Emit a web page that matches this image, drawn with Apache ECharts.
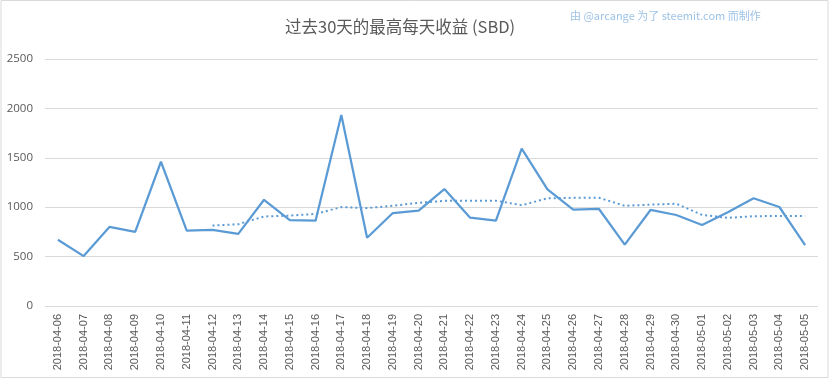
<!DOCTYPE html>
<html><head><meta charset="utf-8">
<script src="https://cdn.jsdelivr.net/npm/echarts@6/dist/echarts.min.js"></script>
<style>html,body{margin:0;padding:0;background:#fff}#c{width:833px;height:379px}</style>
</head><body><div id="c"></div>
<script>
const dates = ["2018-04-06","2018-04-07","2018-04-08","2018-04-09","2018-04-10","2018-04-11","2018-04-12","2018-04-13","2018-04-14","2018-04-15","2018-04-16","2018-04-17","2018-04-18","2018-04-19","2018-04-20","2018-04-21","2018-04-22","2018-04-23","2018-04-24","2018-04-25","2018-04-26","2018-04-27","2018-04-28","2018-04-29","2018-04-30","2018-05-01","2018-05-02","2018-05-03","2018-05-04","2018-05-05"];
const dailyMax = [670,505,800,750,1460,762,770,730,1075,870,863,1933,691,941,965,1184,894,863,1592,1180,975,982,621,972,921,820,950,1090,1002,617];
const trend = [null,null,null,null,null,null,815,828,906,915,932,1001,991,1014,1045,1064,1066,1066,1020,1090,1095,1096,1014,1026,1035,923,892,909,911,910];
const yTicks = [0,500,1000,1500,2000,2500];
const titleText = "过去30天的最高每天收益 (SBD)";
const creditText = "由 @arcange 为了 steemit.com 而制作";

const chart = echarts.init(document.getElementById('c'));
chart.setOption({
  animation:false,
  backgroundColor:'#fff',
  textStyle:{fontFamily:'"Noto Sans CJK SC", "Open Sans", sans-serif'},
  graphic:[
    {type:'rect',shape:{x:1,y:0.5,width:827,height:377},style:{fill:'none',stroke:'#d9d9d9',lineWidth:1},silent:true},
    {type:'text',left:285,top:18,style:{text:titleText,fill:'#595959',font:'16.5px "Noto Sans CJK SC", sans-serif'},silent:true},
    {type:'text',left:570,top:10,style:{text:creditText,fill:'#9dc3e6',font:'11px "Noto Sans CJK SC", "Open Sans", sans-serif'},silent:true}
  ],
  grid:{left:45,right:15,top:59,bottom:73},
  xAxis:{
    type:'category',data:dates,boundaryGap:true,
    axisLine:{show:false},axisTick:{show:false},
    axisLabel:{rotate:90,margin:8,color:'#595959',fontSize:11,fontFamily:'"Liberation Sans", sans-serif',interval:0}
  },
  yAxis:{
    type:'value',min:yTicks[0],max:yTicks[yTicks.length-1],interval:500,
    axisLine:{show:false},axisTick:{show:false},
    axisLabel:{color:'#595959',fontSize:11.5,margin:12,fontFamily:'"Open Sans", sans-serif',formatter:v=>String(v)},
    splitLine:{lineStyle:{color:'#d9d9d9',width:1}}
  },
  series:[
    {type:'line',data:dailyMax,symbol:'none',lineStyle:{color:'#5b9bd5',width:2.25},itemStyle:{color:'#5b9bd5'}},
    {type:'line',data:trend,symbol:'none',lineStyle:{color:'#5b9bd5',width:2,type:[2,3]},itemStyle:{color:'#5b9bd5'}}
  ]
});
</script></body></html>
